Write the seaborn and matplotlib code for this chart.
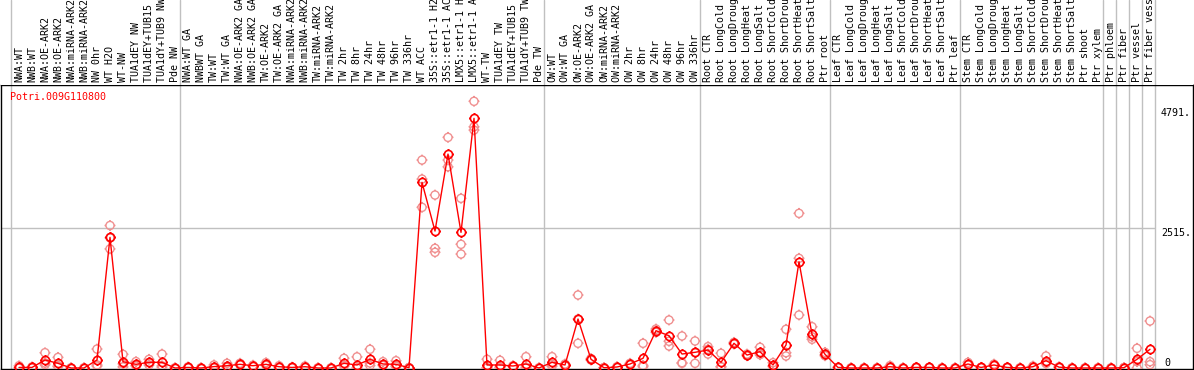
import numpy as np
import pandas as pd
import matplotlib
matplotlib.use("Agg")
import matplotlib.pyplot as plt
import matplotlib.transforms as mtransforms
from matplotlib.path import Path
import seaborn as sns

gene_id = "Potri.009G110800"

samples = [
    "NWA:WT", "NWB:WT", "NWA:OE-ARK2", "NWB:OE-ARK2", "NWA:miRNA-ARK2", "NWB:miRNA-ARK2",
    "NW 0hr", "WT H2O", "WT-NW", "TUA1dEY NW", "TUA1dEY+TUB15 NW", "TUA1dY+TUB9 NW", "Pde NW",
    "NWA:WT GA", "NWBWT GA", "TW:WT", "TW:WT GA", "NWA:OE-ARK2 GA", "NWB:OE-ARK2 GA",
    "TW:OE-ARK2", "TW:OE-ARK2 GA", "NWA:miRNA-ARK2 GA", "NWB:miRNA-ARK2 GA", "TW:miRNA-ARK2",
    "TW:miRNA-ARK2 GA", "TW 2hr", "TW 8hr", "TW 24hr", "TW 48hr", "TW 96hr", "TW 336hr",
    "WT ACC", "35S::etr1-1 H2O", "35S::etr1-1 ACC", "LMX5::etr1-1 H2O", "LMX5::etr1-1 ACC",
    "WT-TW", "TUA1dEY TW", "TUA1dEY+TUB15 TW", "TUA1dY+TUB9 TW", "Pde TW",
    "OW:WT", "OW:WT GA", "OW:OE-ARK2", "OW:OE-ARK2 GA", "OW:miRNA-ARK2", "OW:miRNA-ARK2 GA",
    "OW 2hr", "OW 8hr", "OW 24hr", "OW 48hr", "OW 96hr", "OW 336hr",
    "Root CTR", "Root LongCold", "Root LongDrought", "Root LongHeat", "Root LongSalt",
    "Root ShortCold", "Root ShortDrought", "Root ShortHeat", "Root ShortSalt", "Ptr root",
    "Leaf CTR", "Leaf LongCold", "Leaf LongDrought", "Leaf LongHeat", "Leaf LongSalt",
    "Leaf ShortCold", "Leaf ShortDrought", "Leaf ShortHeat", "Leaf ShortSalt", "Ptr leaf",
    "Stem CTR", "Stem LongCold", "Stem LongDrought", "Stem LongHeat", "Stem LongSalt",
    "Stem ShortCold", "Stem ShortDrought", "Stem ShortHeat", "Stem ShortSalt",
    "Ptr shoot", "Ptr xylem", "Ptr phloem", "Ptr fiber", "Ptr vessel", "Ptr fiber vessel",
]

mean_expr = [
    10, 10, 144, 84, 0, 0, 144, 2347, 113, 66, 102, 102, 0,
    10, 0, 25, 41, 66, 41, 66, 23, 10, 23, 0, 0, 84, 54, 156, 72, 66, 5,
    3335, 2460, 3843, 2437, 4485, 54, 54, 36, 72, 0,
    102, 54, 880, 156, 5, 18, 72, 174, 670, 580, 251, 282,
    323, 102, 444, 233, 293, 54, 413, 1909, 605, 246,
    10, 0, 0, 0, 23, 0, 10, 10, 0, 0,
    72, 10, 54, 10, 0, 23, 131, 15, 0, 0, 0,
    0, 5, 156, 336,
]

replicates = [
    [40, 0, 0], [20, 5, 5], [275, 90, 60], [190, 35, 25], [0, 0, 0], [0, 0, 0],
    [340, 55, 35], [2560, 2140, 2340], [245, 20, 75], [115, 50, 35], [155, 95, 55],
    [250, 40, 15], [0, 0, 0],
    [20, 5, 5], [0, 0, 0], [55, 15, 5], [84, 30, 10], [85, 60, 55], [50, 40, 33],
    [96, 55, 47], [40, 20, 10], [15, 10, 5], [35, 20, 15], [0, 0, 0], [0, 0, 0],
    [174, 45, 33], [200, 0, 0], [336, 90, 45], [113, 60, 45], [131, 40, 25], [5, 5, 5],
    [3736, 3394, 2886], [3107, 2150, 2078], [4143, 3736, 3615], [3048, 2222, 2047],
    [4791, 4334, 4274], [156, 5, 0], [138, 15, 10], [40, 36, 30], [203, 15, 0], [0, 0, 0],
    [203, 30, 60], [72, 50, 40], [1311, 444, 880], [144, 170, 150], [5, 5, 5], [20, 18, 15],
    [84, 65, 65], [444, 45, 25], [640, 700, 670], [862, 395, 480], [575, 84, 95], [485, 84, 275],
    [383, 251, 335], [264, 23, 20], [460, 430, 444], [250, 220, 230], [372, 240, 268],
    [95, 40, 27], [695, 275, 215], [2778, 1970, 952], [742, 515, 560], [280, 220, 240],
    [10, 10, 10], [0, 0, 0], [0, 0, 0], [0, 0, 0], [41, 20, 10],
    [0, 0, 0], [10, 10, 10], [10, 10, 10], [0, 0, 0], [0, 0, 0],
    [100, 60, 55], [10, 10, 10], [70, 50, 45], [10, 10, 10], [0, 0, 0],
    [35, 20, 15], [215, 100, 80], [20, 15, 10], [0, 0, 0],
    [0, 0, 0], [0, 0, 0], [0, 0, 0], [5, 5, 5], [354, 0, 115], [844, 113, 60],
]

group_sizes = [13, 28, 12, 10, 10, 11, 1, 1, 1, 1]
scale_values = [4791, 2515, 0]
scale_labels = ["4791.", "2515.", "0"]
grid_values = [2515]

RED = "#ff0000"
PINK = "#f09090"
GRAY = "#c0c0c0"


def tick_circle(r1=1.35):
    # circle with four small ticks outside it
    segs = [Path([(0, 1), (0, r1)]), Path([(0, -1), (0, -r1)]),
            Path([(1, 0), (r1, 0)]), Path([(-1, 0), (-r1, 0)])]
    return Path.make_compound_path(Path.unit_circle(), *segs)


sns.set_style("white")
plt.rcParams["font.family"] = ["DejaVu Sans Mono", "DejaVu Sans"]

W, H = 1194, 370
fig = plt.figure(figsize=(W / 100, H / 100), dpi=100)

# plot area: x 1..1193 px, y 85..369 px (from top)
ax = fig.add_axes([1 / W, 1 / H, 1192 / W, 284 / H])
hdr = fig.add_axes([1 / W, 285 / H, 1192 / W, 85 / H])

x_idx = np.arange(len(samples))
xlim = ((1 - 19) / 13.0, (1193 - 19) / 13.0)
ylim = (-18, 5084)

rep_df = pd.DataFrame(
    [(i, v) for i, reps in enumerate(replicates) for v in reps],
    columns=["idx", "value"],
)
mean_df = pd.DataFrame({"idx": x_idx, "value": mean_expr})

marker = tick_circle()

sns.scatterplot(data=rep_df, x="idx", y="value", ax=ax, marker=marker, s=62,
                color=PINK, facecolor="none", edgecolor=PINK, linewidth=1.0,
                zorder=3, legend=False)
sns.lineplot(data=mean_df, x="idx", y="value", ax=ax, color=RED, linewidth=1.0,
             marker=marker, markersize=7.9, markerfacecolor="none",
             markeredgecolor=RED, markeredgewidth=1.2, estimator=None,
             sort=False, zorder=4)

# group separators
bounds = np.concatenate([[0], np.cumsum(group_sizes)]) - 0.65
for a in (ax, hdr):
    for b in bounds:
        a.axvline(b, color=GRAY, linewidth=1.0, zorder=1)
for g in grid_values:
    ax.hlines(g, xlim[0], bounds[-1], color=GRAY, linewidth=1.0, zorder=1)

ax.set_xlim(*xlim)
ax.set_ylim(*ylim)
hdr.set_xlim(*xlim)
hdr.set_ylim(0, 1)

for a in (ax, hdr):
    a.set_xticks([])
    a.set_yticks([])
    a.set_xlabel("")
    a.set_ylabel("")
for s in ax.spines.values():
    s.set_color("black")
    s.set_linewidth(1.0)
for s in hdr.spines.values():
    s.set_visible(False)

# sample names, rotated, clipped by the top of the figure
for i, name in enumerate(samples):
    hdr.text(i, 0.03, name, rotation=90, ha="center", va="bottom",
             fontsize=7.2, color="black")

ax.text(9 / 1192, 0.975, gene_id, transform=ax.transAxes, ha="left", va="top",
        fontsize=7.2, color=RED)

tr = mtransforms.blended_transform_factory(ax.transAxes, ax.transData)
for v, lab in zip(scale_values, scale_labels):
    if v == 0:
        ax.text(1163 / 1192, v, lab, transform=tr, ha="left", va="bottom",
                fontsize=7.2, color="black")
    else:
        off = mtransforms.offset_copy(tr, fig=fig, y=-4.5 if v == max(scale_values) else 0,
                                      units="points")
        ax.text(1160 / 1192, v, lab, transform=off, ha="left", va="top",
                fontsize=7.2, color="black")

fig.savefig("out.png", dpi=100)
